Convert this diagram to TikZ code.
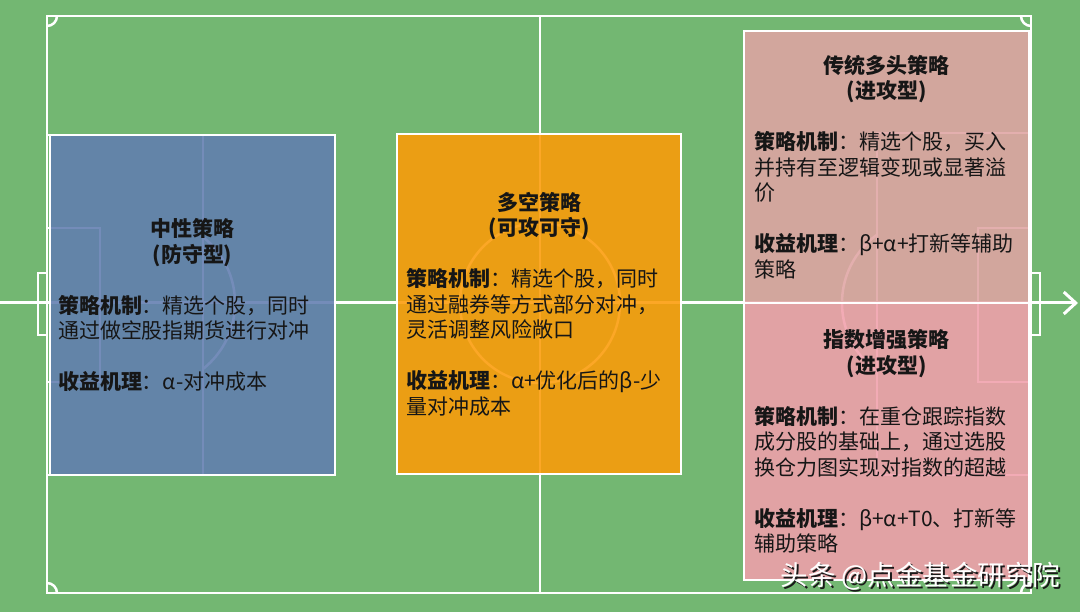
\documentclass[tikz,border=0pt]{standalone}
\usepackage{fontspec}
\setmainfont{Noto Sans CJK SC}
\usetikzlibrary{arrows.meta}
\definecolor{pitch}{RGB}{115,183,114}
\definecolor{bluebox}{RGB}{97,125,176}
\definecolor{orangebox}{RGB}{252,155,8}
\definecolor{pinktop}{RGB}{224,164,163}
\definecolor{pinkbot}{RGB}{241,160,171}
\definecolor{txtcol}{RGB}{22,22,22}
\definecolor{wmshadow}{RGB}{25,25,25}
\newcommand{\ttl}[1]{\makebox[\hsize]{\bfseries #1}}
\newcommand{\hd}[1]{{\bfseries #1}}
\begin{document}
\begin{tikzpicture}[x=1pt,y=-1pt,
  fieldline/.style={draw=white,line width=2.5pt},
  stratbox/.style={draw=white,line width=2pt,fill opacity=0.88,anchor=north west,inner sep=0pt,outer sep=0pt},
  boxtext/.style={align=left,inner sep=0pt,font=\fontsize{21}{25.5}\selectfont,text=txtcol},
  wmtext/.style={anchor=west,inner sep=0pt,font=\fontsize{27.5}{30}\selectfont}
]
\useasboundingbox[fill=pitch] (0,0) rectangle (1080,612);

% pitch markings
\draw[fieldline] (47,16) rectangle (1031,593);
\draw[fieldline] (540,16) -- (540,593);
\draw[fieldline] (540,303) circle[radius=80];
\begin{scope}
  \clip (47,16) rectangle (1031,593);
  \draw[fieldline] (47,16) circle[radius=10];
  \draw[fieldline] (1031,16) circle[radius=10];
  \draw[fieldline] (47,593) circle[radius=10];
  \draw[fieldline] (1031,593) circle[radius=10];
\end{scope}
% left end
\draw[fieldline] (47,135) -- (203,135) -- (203,475) -- (47,475);
\draw[fieldline] (47,228) -- (100,228) -- (100,382) -- (47,382);
\draw[fieldline] (47,273) -- (38,273) -- (38,335) -- (47,335);
\begin{scope}
  \clip (203,0) rectangle (320,612);
  \draw[fieldline] (151,303) circle[radius=84];
\end{scope}
% right end
\draw[fieldline] (1031,133) -- (877,133) -- (877,475) -- (1031,475);
\draw[fieldline] (1031,228) -- (978,228) -- (978,382) -- (1031,382);
\draw[fieldline] (1031,273) -- (1040,273) -- (1040,335) -- (1031,335);
\begin{scope}
  \clip (760,0) rectangle (877,612);
  \draw[fieldline] (926,303) circle[radius=84];
\end{scope}

% arrow
\coordinate (arrowtail) at (0,303);
\coordinate (arrowtip) at (1078,303);
\draw[white,line width=3pt,-{Straight Barb[length=12pt,width=22pt]}] (arrowtail) -- (arrowtip);

% boxes
\node[stratbox,fill=bluebox,minimum width=285pt,minimum height=340pt] (neutral) at (50,135) {};
\node[stratbox,fill=orangebox,minimum width=284pt,minimum height=340pt] (longshort) at (397,134) {};
\node[stratbox,fill=pinktop,minimum width=285pt,minimum height=272pt] (longonly) at (744,31) {};
\node[stratbox,fill=pinkbot,minimum width=285pt,minimum height=277pt] (enhanced) at (744,303) {};

% texts
\node[boxtext,text width=269pt] (neutraltext) at (neutral.center) {%
\ttl{中性策略}\\
\ttl{(防守型)}\\[25.5pt]
\hd{策略机制}：精选个股，同时\\
通过做空股指期货进行对冲\\[25.5pt]
\hd{收益机理}：α-对冲成本};

\node[boxtext,text width=266pt] (longshorttext) at (longshort.center) {%
\ttl{多空策略}\\
\ttl{(可攻可守)}\\[25.5pt]
\hd{策略机制}：精选个股，同时\\
通过融券等方式部分对冲，\\
灵活调整风险敞口\\[25.5pt]
\hd{收益机理}：α+优化后的β-少\\
量对冲成本};

\node[boxtext,text width=265pt] (longonlytext) at (longonly.center) {%
\ttl{传统多头策略}\\
\ttl{(进攻型)}\\[25.5pt]
\hd{策略机制}：精选个股，买入\\
并持有至逻辑变现或显著溢\\
价\\[25.5pt]
\hd{收益机理}：β+α+打新等辅助\\
策略};

\node[boxtext,text width=265pt] (enhancedtext) at (enhanced.center) {%
\ttl{指数增强策略}\\
\ttl{(进攻型)}\\[25.5pt]
\hd{策略机制}：在重仓跟踪指数\\
成分股的基础上，通过选股\\
换仓力图实现对指数的超越\\[25.5pt]
\hd{收益机理}：β+α+T0、打新等\\
辅助策略};

% watermark
\node[wmtext,text=wmshadow] (wmshade) at (782.5,578.5) {头条 @点金基金研究院};
\node[wmtext,text=white] (wm) at (780.5,576.5) {头条 @点金基金研究院};
\end{tikzpicture}
\end{document}
